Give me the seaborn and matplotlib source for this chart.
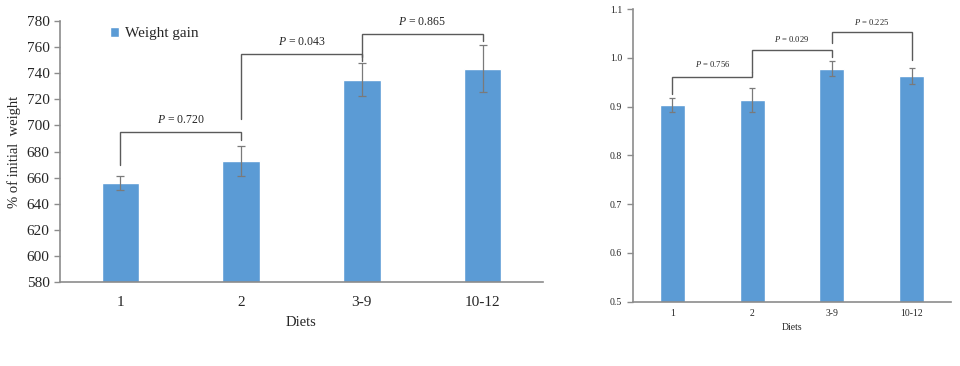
import numpy as np
import pandas as pd
import matplotlib
matplotlib.use("Agg")
from matplotlib import pyplot as plt
from matplotlib.ticker import MultipleLocator, FormatStrFormatter
import seaborn as sns

# data
diets = ["1", "2", "3-9", "10-12"]

gain_mean = [656, 672.5, 735, 743.5]
gain_err = [5.5, 11.6, 12.5, 18]

right_mean = [0.903, 0.913, 0.978, 0.963]
right_err = [0.014, 0.025, 0.016, 0.017]

# brackets: (left cat, right cat, top y, left leg bottom, right leg bottom, label y, label)
gain_brackets = [
    (0, 1, 694.7, 670, 688.5, 704, "0.720"),
    (1, 2, 755, 705, 749, 764, "0.043"),
    (2, 3, 770, 752.6, 765, 779, "0.865"),
]
right_brackets = [
    (0, 1, 0.960, 0.925, 0.9715, 0.9865, "0.756"),
    (1, 2, 1.0166, 0.9715, 1.001, 1.038, "0.029"),
    (2, 3, 1.052, 1.031, 0.9955, 1.073, "0.225"),
]

BAR = "#5b9bd5"
AXC = "#8c8c8c"
TXT = "#262626"

sns.set_style("white")
plt.rcParams["font.family"] = ["Liberation Serif", "DejaVu Serif"]
plt.rcParams["mathtext.fontset"] = "custom"
plt.rcParams["mathtext.it"] = "Liberation Serif:italic"
plt.rcParams["mathtext.rm"] = "Liberation Serif"

fig = plt.figure(figsize=(9.6, 3.66), dpi=100)
ax1 = fig.add_axes([0.0625, 0.2295, 0.503, 0.7131])
ax2 = fig.add_axes([0.659, 0.1757, 0.332, 0.7997])


def draw_panel(ax, means, errs, brackets, ylim, step, fmt, tick_fs, p_fs, lab_fs,
               capsize, xpad, lpad):
    df = pd.DataFrame({"Diet": diets, "value": means})
    sns.barplot(data=df, x="Diet", y="value", color=BAR, width=0.31,
                errorbar=None, saturation=1, ax=ax, label="Weight gain")
    ax.errorbar(np.arange(len(diets)), means, yerr=errs, fmt="none",
                ecolor="#7a7a7a", elinewidth=0.9, capsize=capsize, capthick=0.9)
    for l, r, top, lb, rb, ty, lab in brackets:
        ax.plot([l, l, r, r], [lb, top, top, rb], color="#5a5a5a", lw=1.0,
                solid_joinstyle="miter")
        ax.text((l + r) / 2, ty, f"$P$ = {lab}", ha="center", va="center",
                fontsize=p_fs, color=TXT)
    ax.set_xlim(-0.5, 3.5)
    ax.set_ylim(*ylim)
    ax.yaxis.set_major_locator(MultipleLocator(step))
    ax.yaxis.set_major_formatter(FormatStrFormatter(fmt))
    ax.set_xticks(np.arange(-0.5, 4, 1), minor=True)
    ax.tick_params(axis="x", which="major", length=0, labelsize=tick_fs,
                   labelcolor=TXT, pad=xpad)
    ax.tick_params(axis="x", which="minor", length=5, direction="inout",
                   color=AXC, width=1)
    ax.tick_params(axis="y", length=4, direction="out", color=AXC, width=1,
                   labelsize=tick_fs, labelcolor=TXT, left=True)
    for s in ["top", "right"]:
        ax.spines[s].set_visible(False)
    for s in ["left", "bottom"]:
        ax.spines[s].set_color(AXC)
        ax.spines[s].set_linewidth(1.2)
    ax.set_xlabel("Diets", fontsize=lab_fs, color=TXT, labelpad=lpad)
    ax.set_ylabel("")


draw_panel(ax1, gain_mean, gain_err, gain_brackets, (580, 780), 20, "%d",
           11, 8.5, 10.5, 3, 10, 5)
ax1.set_ylabel("% of initial  weight", fontsize=10.5, color=TXT)
ax1.yaxis.set_label_coords(-0.08, 0.5)
ax1.legend(loc="upper left", bbox_to_anchor=(0.075, 1.03), frameon=False,
           fontsize=11, handlelength=0.6, handleheight=0.6, handletextpad=0.4,
           labelcolor=TXT)

draw_panel(ax2, right_mean, right_err, right_brackets, (0.5, 1.1), 0.1, "%.1f",
           7, 6.2, 7, 2, 5, 4)
if ax2.get_legend() is not None:
    ax2.get_legend().remove()

fig.savefig("out.png", dpi=100)
